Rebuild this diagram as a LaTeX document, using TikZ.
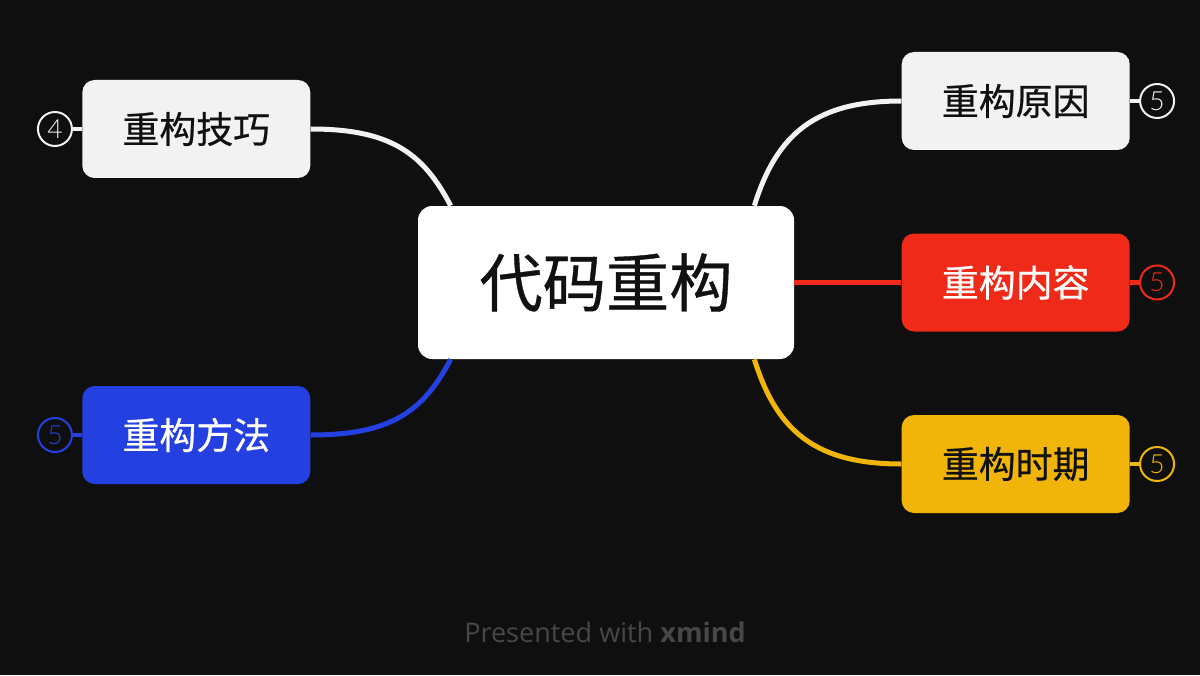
\documentclass[tikz,border=0pt]{standalone}
\usepackage{fontspec}
\setmainfont{Open Sans}
\newfontfamily\cjk[FakeBold=0.6]{Noto Sans CJK SC}
\newfontfamily\numfont{Lato Light}
\usetikzlibrary{positioning}
\definecolor{bgdark}{HTML}{0F0F0F}
\definecolor{topicgray}{HTML}{F2F2F2}
\definecolor{topicred}{HTML}{EF2A19}
\definecolor{topicyellow}{HTML}{F0B508}
\definecolor{topicblue}{HTML}{2440E0}
\definecolor{footgray}{HTML}{474747}
\definecolor{inkdark}{HTML}{111111}

\begin{document}
\begin{tikzpicture}[
    root/.style={fill=white, rounded corners=8pt, minimum width=7.52cm, minimum height=3.06cm, text=inkdark, font=\cjk\fontsize{36}{40}\selectfont},
    topic/.style={rounded corners=7pt, minimum width=4.56cm, minimum height=1.96cm, font=\cjk\fontsize{21}{25}\selectfont},
    badge/.style={circle, draw, line width=0.04cm, minimum size=0.68cm, inner sep=0pt, font=\numfont\fontsize{15}{17}\selectfont},
    branch/.style={line width=0.1cm},
    stub/.style={line width=0.09cm}]

    \fill[bgdark] (0,0) rectangle (24,13.5);

    \node[root] (center) at (12.12,7.85) {代码重构};

    % right side
    \node[topic, fill=topicgray, text=inkdark, right=2.14cm of center, yshift=3.63cm] (reason) {重构原因};
    \node[topic, fill=topicred, text=white, right=2.14cm of center] (content) {重构内容};
    \node[topic, fill=topicyellow, text=inkdark, right=2.14cm of center, yshift=-3.63cm] (period) {重构时期};

    % left side
    \node[topic, fill=topicgray, text=inkdark, left=2.14cm of center, yshift=3.07cm] (tech) {重构技巧};
    \node[topic, fill=topicblue, text=white, left=2.14cm of center, yshift=-3.05cm] (method) {重构方法};

    \node[badge, draw=topicgray, text=topicgray, right=0.18cm of reason] (reasonnum) {5};
    \node[badge, draw=topicred, text=topicred, right=0.18cm of content] (contentnum) {5};
    \node[badge, draw=topicyellow, text=topicyellow, right=0.18cm of period] (periodnum) {5};
    \node[badge, draw=topicgray, text=topicgray, left=0.18cm of tech] (technum) {4};
    \node[badge, draw=topicblue, text=topicblue, left=0.18cm of method] (methodnum) {5};

    \draw[branch, topicgray] ([xshift=-0.8cm]center.north east) .. controls +(0.45,1.45) and +(-1.7,0) .. (reason.west);
    \draw[branch, topicred] (center.east) -- (content.west);
    \draw[branch, topicyellow] ([xshift=-0.8cm]center.south east) .. controls +(0.45,-1.45) and +(-1.7,0) .. (period.west);
    \draw[branch, topicgray] ([xshift=0.66cm]center.north west) .. controls +(-0.55,1.05) and +(1.6,0) .. (tech.east);
    \draw[branch, topicblue] ([xshift=0.66cm]center.south west) .. controls +(-0.55,-1.05) and +(1.6,0) .. (method.east);

    \draw[stub, topicgray] (reason) -- (reasonnum);
    \draw[stub, topicred] (content) -- (contentnum);
    \draw[stub, topicyellow] (period) -- (periodnum);
    \draw[stub, topicgray] (tech) -- (technum);
    \draw[stub, topicblue] (method) -- (methodnum);

    \node[text=footgray, font=\fontsize{15.4}{17}\selectfont] (credit) at (12.1,0.86) {Presented with \textbf{xmind}};
\end{tikzpicture}
\end{document}
